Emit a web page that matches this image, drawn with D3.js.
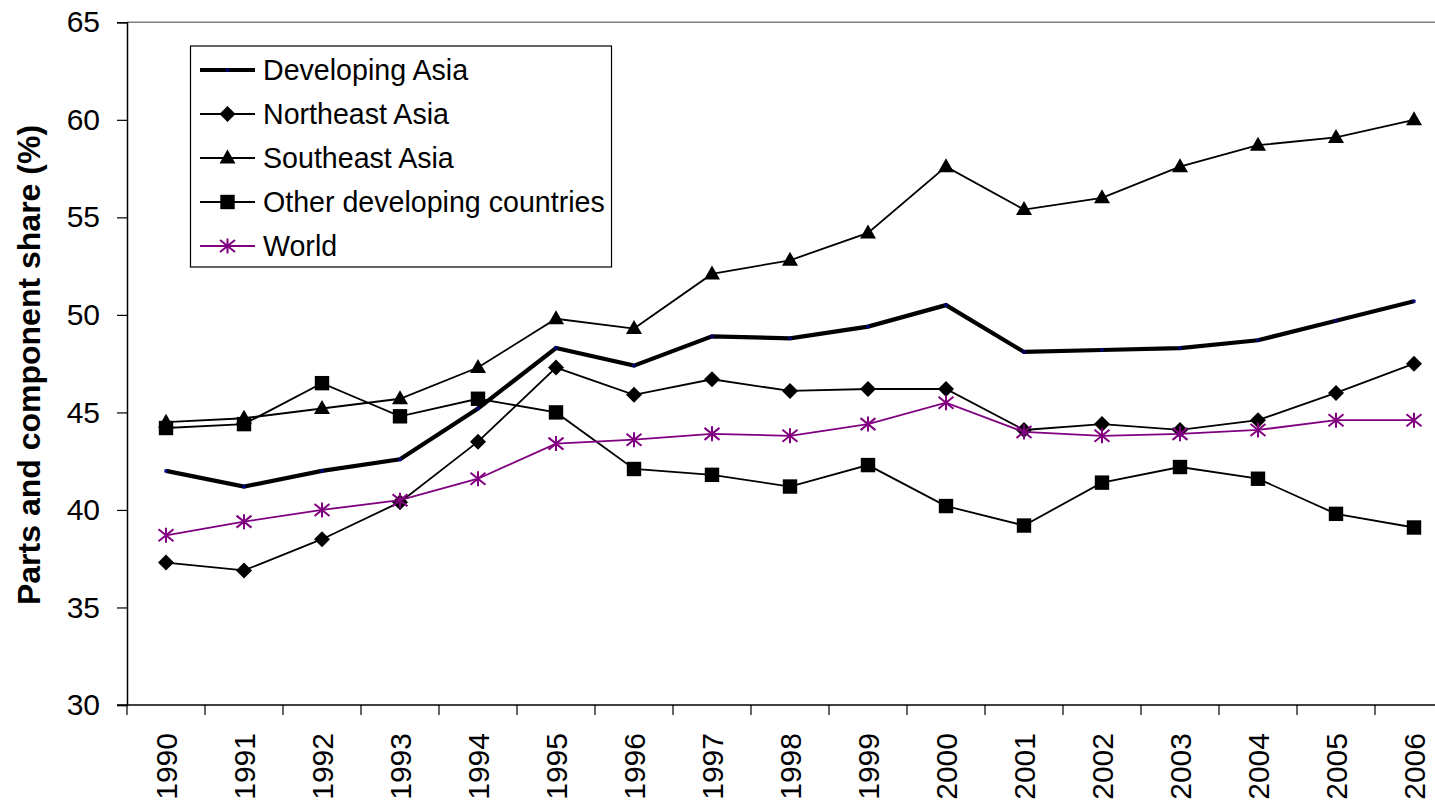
<!DOCTYPE html>
<html>
<head>
<meta charset="utf-8">
<script src="https://cdn.jsdelivr.net/npm/d3@7"></script>
<style>
  html, body { margin: 0; padding: 0; background: #fff; }
  svg { display: block; font-family: Arial, "Liberation Sans", sans-serif; }
</style>
</head>
<body>
<svg id="chart" width="1435" height="806"></svg>
<script>
const years = ["1990","1991","1992","1993","1994","1995","1996","1997","1998","1999","2000","2001","2002","2003","2004","2005","2006"];
const developingAsia = [42.0, 41.2, 42.0, 42.6, 45.2, 48.3, 47.4, 48.9, 48.8, 49.4, 50.5, 48.1, 48.2, 48.3, 48.7, 49.7, 50.7];
const northeastAsia  = [37.3, 36.9, 38.5, 40.4, 43.5, 47.3, 45.9, 46.7, 46.1, 46.2, 46.2, 44.1, 44.4, 44.1, 44.6, 46.0, 47.5];
const southeastAsia  = [44.5, 44.7, 45.2, 45.7, 47.3, 49.8, 49.3, 52.1, 52.8, 54.2, 57.6, 55.4, 56.0, 57.6, 58.7, 59.1, 60.0];
const otherDeveloping = [44.2, 44.4, 46.5, 44.8, 45.7, 45.0, 42.1, 41.8, 41.2, 42.3, 40.2, 39.2, 41.4, 42.2, 41.6, 39.8, 39.1];
const world          = [38.7, 39.4, 40.0, 40.5, 41.6, 43.4, 43.6, 43.9, 43.8, 44.4, 45.5, 44.0, 43.8, 43.9, 44.1, 44.6, 44.6];
const yTicks = [30, 35, 40, 45, 50, 55, 60, 65];
const seriesNames = ["Developing Asia", "Northeast Asia", "Southeast Asia", "Other developing countries", "World"];

const series = [
  { name: seriesNames[0], values: developingAsia, color: "#000", width: 4.2, marker: "dot" },
  { name: seriesNames[1], values: northeastAsia, color: "#000", width: 1.8, marker: "diamond" },
  { name: seriesNames[2], values: southeastAsia, color: "#000", width: 1.8, marker: "triangle" },
  { name: seriesNames[3], values: otherDeveloping, color: "#000", width: 1.8, marker: "square" },
  { name: seriesNames[4], values: world, color: "#800080", width: 1.8, marker: "star" }
];

const svg = d3.select("#chart");
const plotLeft = 127, plotTop = 22.3, plotBottom = 705, band = 78;

const x = d3.scaleBand().domain(years).range([plotLeft, plotLeft + band * years.length]).padding(0);
const y = d3.scaleLinear().domain([30, 65]).range([plotBottom, plotTop]);
const cx = d => x(d) + x.bandwidth() / 2;

// plot area top border
svg.append("line").attr("x1", plotLeft).attr("x2", 1435).attr("y1", y(65)).attr("y2", y(65))
  .attr("stroke", "#808080").attr("stroke-width", 1.5);

// y axis
const yAxis = d3.axisLeft(y).tickValues(yTicks).tickSize(10).tickPadding(17).tickFormat(d3.format("d"));
const gy = svg.append("g").attr("transform", `translate(${plotLeft},0)`).call(yAxis);
gy.select(".domain").attr("stroke", "#000").attr("stroke-width", 1.5);
gy.selectAll(".tick line").attr("stroke", "#000").attr("stroke-width", 1.2);
gy.selectAll(".tick text").attr("font-size", 30).attr("fill", "#000").attr("font-family", "Arial, 'Liberation Sans', sans-serif");

// x axis
const gx = svg.append("g").attr("transform", `translate(0,${plotBottom})`);
gx.append("line").attr("x1", plotLeft - 10).attr("x2", 1435).attr("y1", 0).attr("y2", 0)
  .attr("stroke", "#000").attr("stroke-width", 1.5);
gx.selectAll(".btick").data(years).enter().append("line")
  .attr("x1", d => x(d)).attr("x2", d => x(d)).attr("y1", 0).attr("y2", 10)
  .attr("stroke", "#000").attr("stroke-width", 1.2);
gx.selectAll(".xlab").data(years).enter().append("text")
  .attr("transform", d => `translate(${cx(d)},0) rotate(-90)`)
  .attr("x", -28).attr("y", 0).attr("dy", "0.36em")
  .attr("text-anchor", "end").attr("font-size", 30).attr("fill", "#000")
  .text(d => d);

// y label
svg.append("text")
  .attr("transform", `translate(28,${365}) rotate(-90)`)
  .attr("text-anchor", "middle").attr("dy", "0.36em")
  .attr("font-size", 32).attr("font-weight", "bold").attr("fill", "#000")
  .text("Parts and component share (%)");

function drawMarker(g, type, px, py, color) {
  if (type === "dot") {
    g.append("rect").attr("x", px - 1.6).attr("y", py - 1.6).attr("width", 3.2).attr("height", 3.2).attr("fill", "#000080");
  } else if (type === "diamond") {
    const r = 8;
    g.append("path").attr("d", `M${px},${py - r}L${px + r},${py}L${px},${py + r}L${px - r},${py}Z`).attr("fill", "#000");
  } else if (type === "triangle") {
    g.append("path").attr("d", `M${px},${py - 8.5}L${px + 8},${py + 5.5}L${px - 8},${py + 5.5}Z`).attr("fill", "#000");
  } else if (type === "square") {
    g.append("rect").attr("x", px - 7.2).attr("y", py - 7.2).attr("width", 14.4).attr("height", 14.4).attr("fill", "#000");
  } else if (type === "star") {
    const r = 7.5;
    g.append("path").attr("d",
      `M${px},${py - r}L${px},${py + r}M${px - r},${py - r * 0.8}L${px + r},${py + r * 0.8}M${px - r},${py + r * 0.8}L${px + r},${py - r * 0.8}`)
      .attr("stroke", color).attr("stroke-width", 2).attr("fill", "none");
  }
}

const line = d3.line().x((d, i) => cx(years[i])).y(d => y(d));
series.forEach(s => {
  const g = svg.append("g");
  g.append("path").attr("d", line(s.values)).attr("fill", "none")
    .attr("stroke", s.color).attr("stroke-width", s.width).attr("stroke-linejoin", "miter");
  s.values.forEach((v, i) => drawMarker(g, s.marker, cx(years[i]), y(v), s.color));
});

// legend
const lg = svg.append("g");
lg.append("rect").attr("x", 190.5).attr("y", 46).attr("width", 421).attr("height", 221)
  .attr("fill", "#fff").attr("stroke", "#000").attr("stroke-width", 1.2);
series.forEach((s, i) => {
  const ry = 70 + i * 44;
  lg.append("line").attr("x1", 200).attr("x2", 255).attr("y1", ry).attr("y2", ry)
    .attr("stroke", s.color).attr("stroke-width", s.width);
  drawMarker(lg, s.marker, 227.5, ry, s.color);
  lg.append("text").attr("x", 263).attr("y", ry).attr("dy", "0.36em")
    .attr("font-size", 28.6).attr("fill", "#000").text(s.name);
});
</script>
</body>
</html>
